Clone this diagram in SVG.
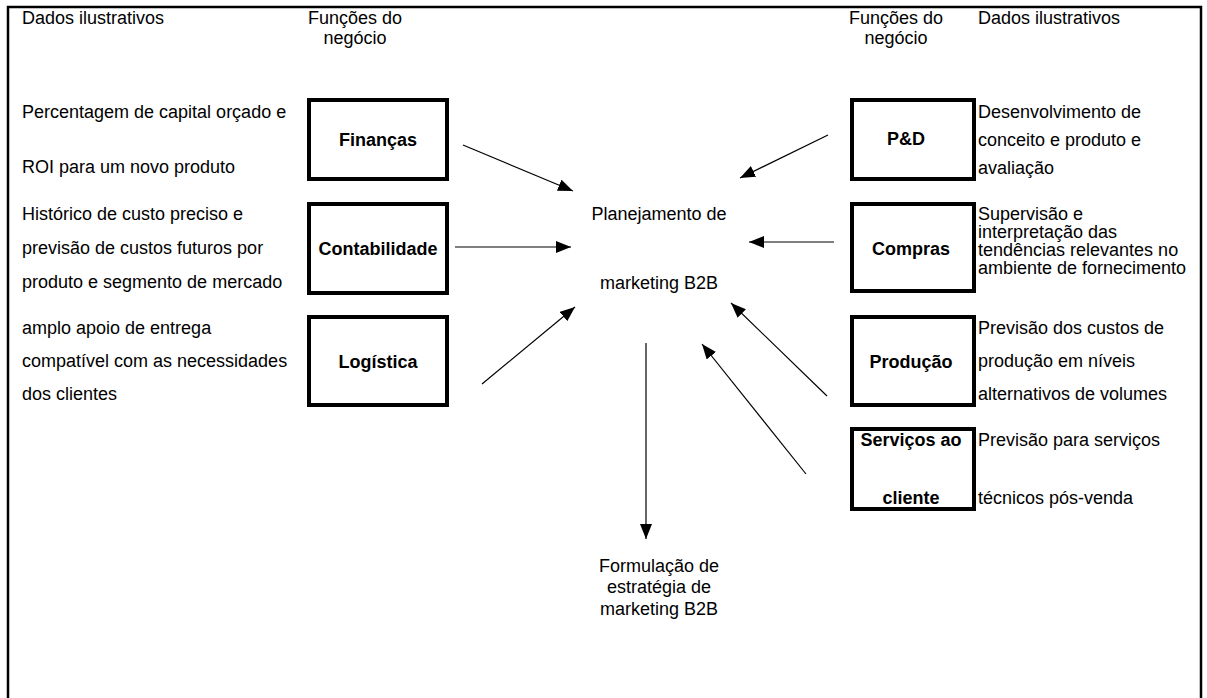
<svg xmlns="http://www.w3.org/2000/svg" width="1207" height="698" viewBox="0 0 1207 698">
<defs>
<style>
text{font-family:"Liberation Sans",Arial,sans-serif;font-size:18px;fill:#000}
.b{font-weight:bold}
.c{text-anchor:middle}
.box{fill:#fff;stroke:#000;stroke-width:4}
.ln{stroke:#000;stroke-width:1.2;fill:none}
</style>
<marker id="ah" viewBox="0 0 15 12" refX="15" refY="6" markerWidth="15" markerHeight="12" markerUnits="userSpaceOnUse" orient="auto">
<path d="M0,0 L15,6 L0,12 Z" fill="#000"/>
</marker>
</defs>
<rect x="0" y="0" width="1207" height="698" fill="#fff"/>
<rect x="8" y="7" width="1193" height="720" fill="none" stroke="#000" stroke-width="2.5"/>
<g id="headers">
<text x="22" y="24">Dados ilustrativos</text>
<text x="355" y="24" class="c">Funções do</text>
<text x="355" y="44" class="c">negócio</text>
<text x="896" y="24" class="c">Funções do</text>
<text x="896" y="44" class="c">negócio</text>
<text x="978" y="24">Dados ilustrativos</text>
</g>
<g id="dados-esq">
<text x="22" y="118">Percentagem de capital orçado e</text>
<text x="22" y="173">ROI para um novo produto</text>
<text x="22" y="220">Histórico de custo preciso e</text>
<text x="22" y="254">previsão de custos futuros por</text>
<text x="22" y="288">produto e segmento de mercado</text>
<text x="22" y="334">amplo apoio de entrega</text>
<text x="22" y="367">compatível com as necessidades</text>
<text x="22" y="400">dos clientes</text>
</g>
<g id="financas"><rect class="box" x="309" y="100" width="138" height="79"/><text class="b c" x="378" y="146">Finanças</text></g>
<g id="contabilidade"><rect class="box" x="309" y="204" width="138" height="89"/><text class="b c" x="378" y="255">Contabilidade</text></g>
<g id="logistica"><rect class="box" x="309" y="317" width="138" height="88"/><text class="b c" x="378" y="368">Logística</text></g>
<g id="pd"><rect class="box" x="852" y="100" width="122" height="79"/><text class="b c" x="906" y="145">P&amp;D</text></g>
<g id="compras"><rect class="box" x="852" y="204" width="122" height="87"/><text class="b c" x="911" y="255">Compras</text></g>
<g id="producao"><rect class="box" x="852" y="317" width="122" height="88"/><text class="b c" x="911" y="368">Produção</text></g>
<g id="servicos"><rect class="box" x="852" y="429" width="122" height="80"/><text class="b c" x="911" y="446">Serviços ao</text><text class="b c" x="911" y="504">cliente</text></g>
<g id="dados-dir">
<text x="978" y="118">Desenvolvimento de</text>
<text x="978" y="146">conceito e produto e</text>
<text x="978" y="174">avaliação</text>
<text x="978" y="220">Supervisão e</text>
<text x="978" y="238">interpretação das</text>
<text x="978" y="256">tendências relevantes no</text>
<text x="978" y="274">ambiente de fornecimento</text>
<text x="978" y="334">Previsão dos custos de</text>
<text x="978" y="367">produção em níveis</text>
<text x="978" y="400">alternativos de volumes</text>
<text x="978" y="446">Previsão para serviços</text>
<text x="978" y="504">técnicos pós-venda</text>
</g>
<g id="planejamento">
<text class="c" x="659" y="220">Planejamento de</text>
<text class="c" x="659" y="289">marketing B2B</text>
</g>
<g id="formulacao">
<text class="c" x="659" y="572">Formulação de</text>
<text class="c" x="659" y="593">estratégia de</text>
<text class="c" x="659" y="615">marketing B2B</text>
</g>
<g id="connectors">
<line class="ln" x1="463" y1="145" x2="573" y2="191" marker-end="url(#ah)"/>
<line class="ln" x1="455" y1="247" x2="571" y2="247" marker-end="url(#ah)"/>
<line class="ln" x1="482" y1="384" x2="575" y2="307" marker-end="url(#ah)"/>
<line class="ln" x1="828" y1="135" x2="740" y2="178" marker-end="url(#ah)"/>
<line class="ln" x1="834" y1="242" x2="749" y2="242" marker-end="url(#ah)"/>
<line class="ln" x1="827" y1="396" x2="731" y2="303" marker-end="url(#ah)"/>
<line class="ln" x1="806" y1="474" x2="702" y2="344" marker-end="url(#ah)"/>
<line class="ln" x1="646" y1="343" x2="646" y2="539" marker-end="url(#ah)"/>
</g>
</svg>
